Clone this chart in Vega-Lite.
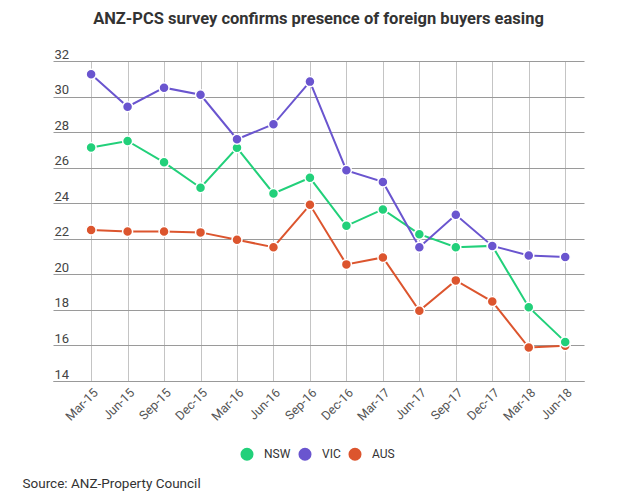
{
  "$schema": "https://vega.github.io/schema/vega-lite/v6.json",
  "width": 531,
  "height": 320,
  "autosize": {"type": "none"},
  "padding": {"left": 53, "top": 61, "right": 53, "bottom": 117},
  "background": "white",
  "config": {
    "font": "Roboto",
    "view": {"stroke": null}
  },
  "title": {
    "text": "ANZ-PCS survey confirms presence of foreign buyers easing",
    "fontSize": 16.5,
    "fontWeight": "bold",
    "font": "Roboto",
    "color": "#333333",
    "anchor": "middle",
    "offset": 21
  },
  "data": {
    "values": [
      {"q": "Mar-15", "region": "NSW", "value": 27.14},
      {"q": "Jun-15", "region": "NSW", "value": 27.5},
      {"q": "Sep-15", "region": "NSW", "value": 26.3},
      {"q": "Dec-15", "region": "NSW", "value": 24.87},
      {"q": "Mar-16", "region": "NSW", "value": 27.12},
      {"q": "Jun-16", "region": "NSW", "value": 24.55},
      {"q": "Sep-16", "region": "NSW", "value": 25.43},
      {"q": "Dec-16", "region": "NSW", "value": 22.73},
      {"q": "Mar-17", "region": "NSW", "value": 23.65},
      {"q": "Jun-17", "region": "NSW", "value": 22.26},
      {"q": "Sep-17", "region": "NSW", "value": 21.53},
      {"q": "Dec-17", "region": "NSW", "value": 21.6},
      {"q": "Mar-18", "region": "NSW", "value": 18.15},
      {"q": "Jun-18", "region": "NSW", "value": 16.2},
      {"q": "Mar-15", "region": "VIC", "value": 31.25},
      {"q": "Jun-15", "region": "VIC", "value": 29.43},
      {"q": "Sep-15", "region": "VIC", "value": 30.5},
      {"q": "Dec-15", "region": "VIC", "value": 30.1},
      {"q": "Mar-16", "region": "VIC", "value": 27.6},
      {"q": "Jun-16", "region": "VIC", "value": 28.44},
      {"q": "Sep-16", "region": "VIC", "value": 30.84},
      {"q": "Dec-16", "region": "VIC", "value": 25.85},
      {"q": "Mar-17", "region": "VIC", "value": 25.2},
      {"q": "Jun-17", "region": "VIC", "value": 21.53},
      {"q": "Sep-17", "region": "VIC", "value": 23.35},
      {"q": "Dec-17", "region": "VIC", "value": 21.6},
      {"q": "Mar-18", "region": "VIC", "value": 21.06},
      {"q": "Jun-18", "region": "VIC", "value": 20.97},
      {"q": "Mar-15", "region": "AUS", "value": 22.5},
      {"q": "Jun-15", "region": "AUS", "value": 22.41},
      {"q": "Sep-15", "region": "AUS", "value": 22.41},
      {"q": "Dec-15", "region": "AUS", "value": 22.36},
      {"q": "Mar-16", "region": "AUS", "value": 21.94},
      {"q": "Jun-16", "region": "AUS", "value": 21.53},
      {"q": "Sep-16", "region": "AUS", "value": 23.91},
      {"q": "Dec-16", "region": "AUS", "value": 20.56},
      {"q": "Mar-17", "region": "AUS", "value": 20.95},
      {"q": "Jun-17", "region": "AUS", "value": 17.95},
      {"q": "Sep-17", "region": "AUS", "value": 19.66},
      {"q": "Dec-17", "region": "AUS", "value": 18.47},
      {"q": "Mar-18", "region": "AUS", "value": 15.88},
      {"q": "Jun-18", "region": "AUS", "value": 15.98}
    ]
  },
  "encoding": {
    "x": {
      "field": "q",
      "type": "ordinal",
      "sort": ["Mar-15","Jun-15","Sep-15","Dec-15","Mar-16","Jun-16","Sep-16","Dec-16","Mar-17","Jun-17","Sep-17","Dec-17","Mar-18","Jun-18"],
      "scale": {"type": "point", "padding": 0.78, "align": 0.67},
      "axis": {
        "title": "Source: ANZ-Property Council",
        "titleX": -31,
        "titleY": 106,
        "titleAlign": "left",
        "titleBaseline": "alphabetic",
        "titleFontSize": 13.5,
        "titleFontWeight": "normal",
        "titleColor": "#333333",
        "titleFont": "Roboto",
        "labelAngle": -45,
        "labelAlign": "right",
        "labelBaseline": "top",
        "labelPadding": 5,
        "labelFontSize": 12.5,
        "labelColor": "#555555",
        "labelFont": "Roboto",
        "ticks": false,
        "domainColor": "#999999",
        "grid": true,
        "gridColor": "#c4c4c4",
        "gridWidth": 1
      }
    },
    "y": {
      "field": "value",
      "type": "quantitative",
      "scale": {"domain": [14, 32], "nice": false, "zero": false},
      "axis": {
        "title": null,
        "values": [14, 16, 18, 20, 22, 24, 26, 28, 30, 32],
        "domain": false,
        "ticks": false,
        "labelAlign": "left",
        "labelBaseline": "alphabetic",
        "labelPadding": -1,
        "labelOffset": -3,
        "labelFontSize": 13,
        "labelColor": "#444444",
        "labelFont": "Roboto",
        "gridColor": "#9a9a9a",
        "gridWidth": 1
      }
    },
    "color": {
      "field": "region",
      "type": "nominal",
      "scale": {"domain": ["NSW", "VIC", "AUS"], "range": ["#22d07a", "#6a55cf", "#dc552e"]},
      "legend": {
        "title": null,
        "orient": "none",
        "legendX": 187,
        "legendY": 386,
        "direction": "horizontal",
        "symbolType": "circle",
        "symbolSize": 170,
        "symbolStrokeWidth": 0,
        "labelFontSize": 12,
        "labelFont": "Roboto",
        "labelColor": "#333333",
        "labelOffset": 10,
        "columnPadding": 7,
        "padding": 0
      }
    },
    "order": {"field": "region"}
  },
  "layer": [
    {"mark": {"type": "line", "strokeWidth": 2}},
    {"mark": {"type": "point", "filled": true, "size": 100, "opacity": 1, "stroke": "white", "strokeWidth": 1.5}}
  ]
}
